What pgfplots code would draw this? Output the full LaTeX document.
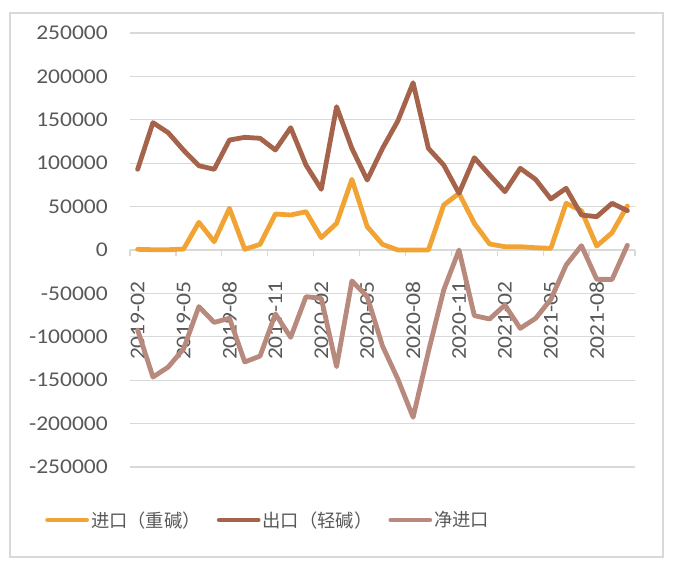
\documentclass[border=0pt]{standalone}
\usepackage{pgfplots}
\pgfplotsset{compat=1.18}
\usepackage{pgfplotstable}
\usepackage{fontspec}
\setmainfont{Carlito}[FakeStretch=1.12]
\newfontfamily\cjk{Noto Sans CJK SC}
\definecolor{cimp}{HTML}{F1A433}
\definecolor{cexp}{HTML}{A6634B}
\definecolor{cnet}{HTML}{B88A7D}
\definecolor{txt}{HTML}{595959}
\definecolor{grd}{HTML}{D9D9D9}

\pgfplotstableread{
x imp exp net
0 800 93000 -92200
1 300 146700 -146400
2 300 135100 -134800
3 1100 115000 -113900
4 31900 97100 -65200
5 9600 93000 -83400
6 48000 126700 -78700
7 800 129800 -129000
8 6500 128700 -122200
9 41500 115200 -73700
10 40300 140900 -100600
11 44100 97900 -53800
12 14200 69900 -55700
13 30700 165100 -134400
14 81400 117100 -35700
15 26900 80600 -53700
16 6500 117100 -110600
17 0 148600 -148600
18 0 192700 -192700
19 0 117100 -117100
20 51800 97900 -46100
21 65300 65300 0
22 30700 106300 -75600
23 6900 86400 -79500
24 3800 67200 -63400
25 3800 94100 -90300
26 2600 81400 -78800
27 1900 58800 -56900
28 53800 71100 -17300
29 45300 40300 5000
30 4600 38400 -33800
31 19900 53800 -33900
32 50700 45300 5400
}\data

\begin{document}
\begin{tikzpicture}
\path (-130bp,-94bp) rectangle (543bp,467bp);
\draw[grd, line width=1.2bp] (-120bp,-90bp) rectangle (533bp,454bp);
\begin{axis}[
  set layers=standard,
  at={(0,0)}, anchor=south west,
  scale only axis, width=505bp, height=434bp,
  xmin=-0.5, xmax=32.5, ymin=-250000, ymax=250000,
  scaled y ticks=false,
  axis x line*=middle, axis y line*=left,
  x axis line style={grd, line width=1.2bp, -},
  y axis line style={draw=none},
  hide obscured x ticks=false, hide obscured y ticks=false,
  ytick={-250000,-200000,-150000,-100000,-50000,0,50000,100000,150000,200000,250000},
  yticklabels={-250000,-200000,-150000,-100000,-50000,0,50000,100000,150000,200000,250000},
  ymajorgrids, grid style={grd, line width=1.2bp},
  xtick={0,3,...,30},
  xticklabels={2019-02,2019-05,2019-08,2019-11,2020-02,2020-05,2020-08,2020-11,2021-02,2021-05,2021-08},
  minor xtick={-0.5,2.5,...,32.5},
  tick align=outside, major tick length=0pt, minor tick length=6bp,
  tick style={grd, line width=1.2bp},
  every minor tick/.style={grd, line width=1.2bp},
  ytick style={draw=none},
  tick label style={font=\fontsize{21bp}{24bp}\selectfont, text=txt},
  yticklabel style={anchor=east, inner sep=0pt, xshift=-22bp},
  xticklabel style={inner sep=0pt, yshift=-31bp, rotate=90, anchor=east},
  legend columns=3,
  legend style={at={(-0.1683,-0.1221)}, anchor=west, draw=none, fill=none,
    font=\cjk\fontsize{18.3bp}{21bp}\selectfont, text=txt, inner sep=0pt,
    nodes={inner sep=2bp},
    /tikz/every even column/.append style={column sep=14bp}},
  legend cell align=left,
  legend image code/.code={\draw[#1, line width=4.8bp, line cap=round] (2bp,0bp) -- (41bp,0bp);},
]
\addplot[cimp, line width=4.8bp, line join=round, line cap=round] table[x=x, y=imp]{\data};
\addlegendentry{进口（重碱）}
\addplot[cexp, line width=4.8bp, line join=round, line cap=round] table[x=x, y=exp]{\data};
\addlegendentry{出口（轻碱）}
\addplot[cnet, line width=4.8bp, line join=round, line cap=round] table[x=x, y=net]{\data};
\addlegendentry{净进口}
\end{axis}
\end{tikzpicture}
\end{document}
